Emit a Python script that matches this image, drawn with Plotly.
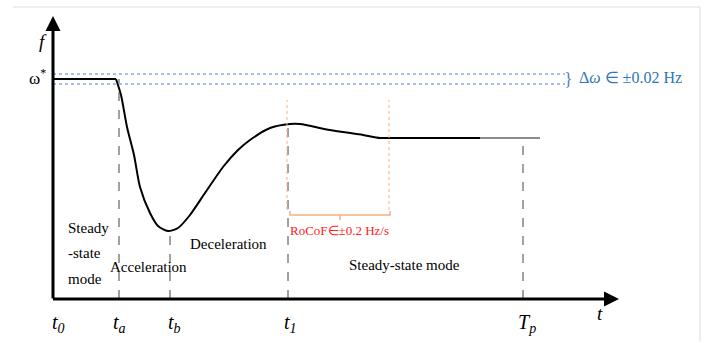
import plotly.graph_objects as go

# ---- schematic data (time units, frequency units) ----
t_flat = [0, 63]
f_flat = [220, 220]
t_curve = [63, 68, 74, 81, 87, 97, 105, 115, 125, 137, 152, 170, 185, 197, 217, 237, 247, 277, 310, 327, 337, 427]
f_curve = [220, 204, 172, 144, 112, 86, 73, 68, 71, 84, 106, 132, 149, 159, 171, 175, 175, 169, 164, 161, 161, 161]
t_tail = [427, 487]
f_tail = [161, 161]

event_names = ["t0", "ta", "tb", "t1", "Tp"]
event_times = [0, 66, 117, 235, 470]
event_levels = [None, 220, 68, 175, 161]
tick_labels = ["<i>t</i><sub><i>0</i></sub>", "<i>t</i><sub><i>a</i></sub>", "<i>t</i><sub><i>b</i></sub>",
               "<i>t</i><sub><i>1</i></sub>", "<i>T</i><sub><i>p</i></sub>"]
tick_pos = [5, 66, 121, 237, 474]

omega_star = 220
band_hi, band_lo = 225, 215
band_end = 512

rocof_t = [234, 336]
rocof_f = [89, 199]

FONT = "Liberation Serif"

fig = go.Figure()
fig.add_trace(go.Scatter(x=t_flat, y=f_flat, mode="lines", line=dict(color="black", width=2), hoverinfo="skip"))
fig.add_trace(go.Scatter(x=t_curve, y=f_curve, mode="lines", line=dict(color="black", width=2, shape="spline", smoothing=0.7), hoverinfo="skip"))
fig.add_trace(go.Scatter(x=t_tail, y=f_tail, mode="lines", line=dict(color="#666666", width=1.5), hoverinfo="skip"))

shapes = []
# frame lines
shapes.append(dict(type="line", x0=-40, x1=647, y0=292, y1=292, line=dict(color="#dddddd", width=1)))
shapes.append(dict(type="line", x0=647, x1=647, y0=292, y1=-42, line=dict(color="#dddddd", width=1)))
# blue tolerance band
for yb in (band_hi, band_lo):
    shapes.append(dict(type="line", x0=0, x1=band_end, y0=yb, y1=yb, line=dict(color="#4f7fd6", width=1, dash="dot")))
# dashed event lines
for tt, lv in zip(event_times, event_levels):
    if lv is None:
        continue
    shapes.append(dict(type="line", x0=tt, x1=tt, y0=0, y1=lv, line=dict(color="#444444", width=1, dash="dash")))
# orange RoCoF markers
for tt in rocof_t:
    shapes.append(dict(type="line", x0=tt, x1=tt, y0=rocof_f[0], y1=rocof_f[1], line=dict(color="#f4b183", width=1, dash="dot")))
bx0, bx1 = rocof_t[0] + 3, rocof_t[1] + 1
bmid = (bx0 + bx1) / 2
shapes.append(dict(type="path", path=f"M {bx0} 88 L {bx0} 84 L {bx1} 84 L {bx1} 88",
                   line=dict(color="#f4b183", width=1.5)))
shapes.append(dict(type="line", x0=bmid, x1=bmid, y0=84, y1=79, line=dict(color="#f4b183", width=1.5)))
fig.update_layout(shapes=shapes)

ann = []
# axes with arrows
ann.append(dict(x=0, y=283, ax=0, ay=-1, xref="x", yref="y", axref="x", ayref="y", text="",
                showarrow=True, arrowhead=2, arrowsize=1.0, arrowwidth=3, arrowcolor="black", standoff=0))
ann.append(dict(x=566, y=0, ax=-1.5, ay=0, xref="x", yref="y", axref="x", ayref="y", text="",
                showarrow=True, arrowhead=2, arrowsize=1.0, arrowwidth=3, arrowcolor="black", standoff=0))
def txt(x, y, s, size=15, color="black", xanchor="center"):
    ann.append(dict(x=x, y=y, text=s, showarrow=False, xref="x", yref="y", xanchor=xanchor, yanchor="middle",
                    font=dict(family=FONT, size=size, color=color)))

txt(-10, 258, "<i>f</i>", size=19)
txt(-16, 222, "ω<sup>*</sup>", size=17)
txt(547, -14, "<i>t</i>", size=19)
for p, lab in zip(tick_pos, tick_labels):
    txt(p, -24, lab, size=20)
txt(13, 71, "Steady", xanchor="left")
txt(13, 46, "-state", xanchor="left")
txt(13, 20, "mode", xanchor="left")
txt(95, 32, "Acceleration")
txt(175, 55, "Deceleration")
txt(351, 34, "Steady-state mode")
txt(286, 69, "RoCoF∈±0.2 Hz/s", size=13, color="#ff2020")
txt(515, 220, "}", size=18, color="#4f7fd6")
txt(577, 222, "Δ<i>ω</i> ∈ ±0.02 Hz", size=16, color="#2e75b6")
fig.update_layout(annotations=ann)

fig.update_layout(
    width=715, height=343, margin=dict(l=0, r=0, t=0, b=0),
    paper_bgcolor="white", plot_bgcolor="white", showlegend=False,
    xaxis=dict(range=[-53, 662], visible=False, fixedrange=True),
    yaxis=dict(range=[-44, 299], visible=False, fixedrange=True),
)
fig.write_html("out.html", post_script="document.body.style.margin='0';",
               config={"displayModeBar": False, "staticPlot": True})
